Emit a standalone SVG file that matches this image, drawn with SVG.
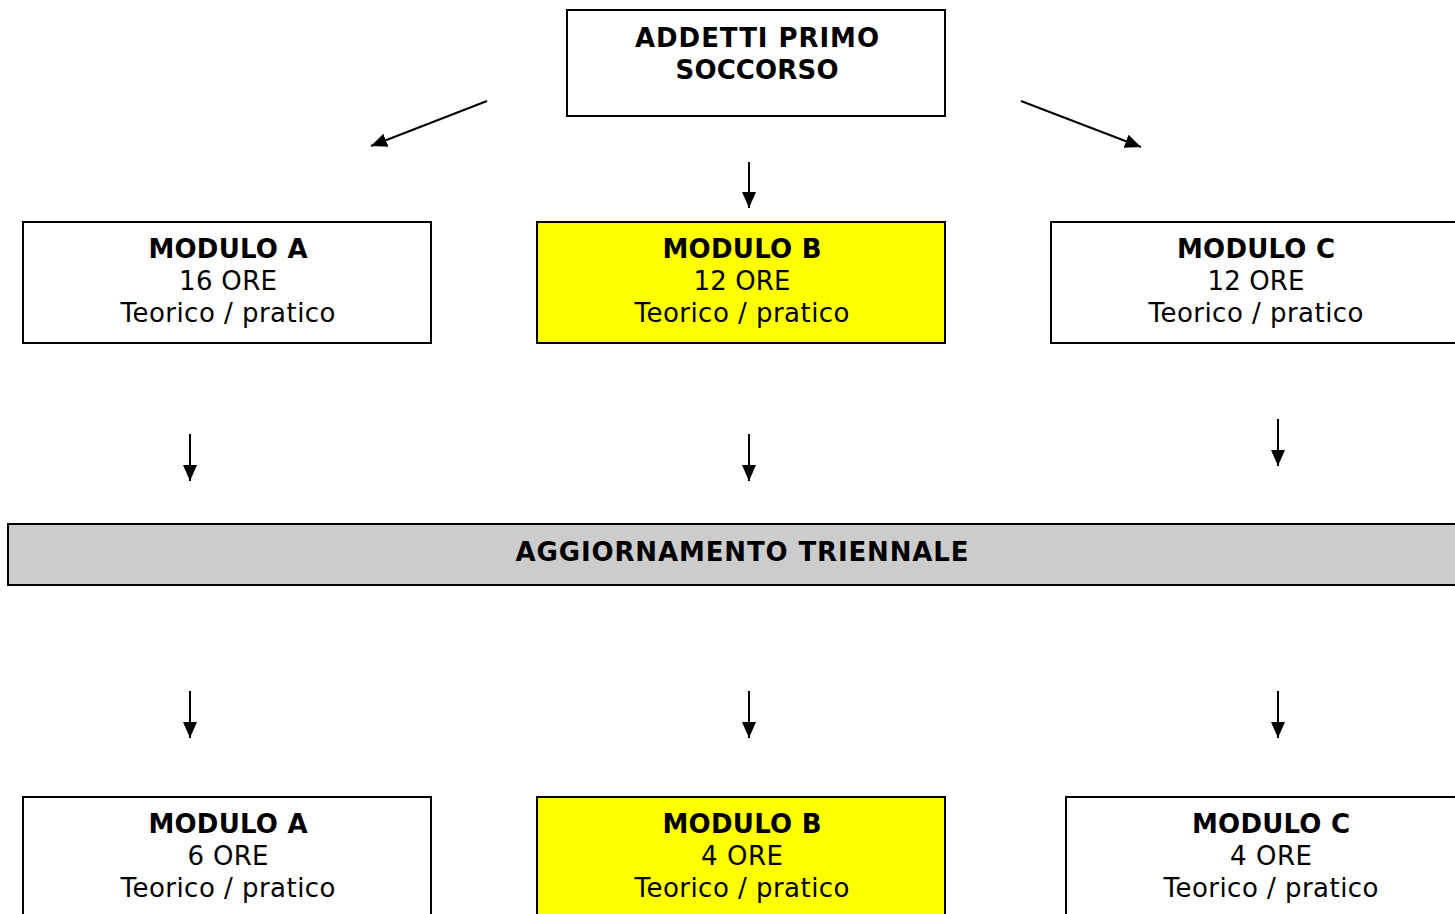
<svg xmlns="http://www.w3.org/2000/svg" width="1455" height="914" viewBox="0 0 1455 914">
<style>
.box{fill:#fff;stroke:#000;stroke-width:2}
.yel{fill:#ffff00;stroke:#000;stroke-width:2}
.gry{fill:#cccccc;stroke:#000;stroke-width:2}
text{font-family:Verdana,"DejaVu Sans",sans-serif;font-size:26px;text-anchor:middle;fill:#000}
.b{font-weight:bold}
.con{stroke:#000;stroke-width:2;fill:none;marker-end:url(#ah)}
</style>
<defs>
<marker id="ah" markerUnits="userSpaceOnUse" markerWidth="17" markerHeight="14" refX="16" refY="7" orient="auto">
<path d="M0,0 L16,7 L0,14 Z" fill="#000"/>
</marker>
</defs>
<rect width="1455" height="914" fill="#fff"/>
<g id="top">
<rect class="box" x="567" y="10" width="378" height="106"/>
<text class="b" x="757" y="47" textLength="244" lengthAdjust="spacing">ADDETTI PRIMO</text>
<text class="b" x="757" y="79" textLength="163" lengthAdjust="spacing">SOCCORSO</text>
</g>
<g id="modA1">
<rect class="box" x="23" y="222" width="408" height="121"/>
<text class="b" x="228" y="258" textLength="159" lengthAdjust="spacing">MODULO A</text>
<text x="228" y="290" textLength="98" lengthAdjust="spacing">16 ORE</text>
<text x="228" y="322" textLength="215" lengthAdjust="spacing">Teorico / pratico</text>
</g>
<g id="modB1">
<rect class="yel" x="537" y="222" width="408" height="121"/>
<text class="b" x="742" y="258" textLength="159" lengthAdjust="spacing">MODULO B</text>
<text x="742" y="290" textLength="97" lengthAdjust="spacing">12 ORE</text>
<text x="742" y="322" textLength="215" lengthAdjust="spacing">Teorico / pratico</text>
</g>
<g id="modC1">
<rect class="box" x="1051" y="222" width="420" height="121"/>
<text class="b" x="1256" y="258" textLength="158" lengthAdjust="spacing">MODULO C</text>
<text x="1256" y="290" textLength="97" lengthAdjust="spacing">12 ORE</text>
<text x="1256" y="322" textLength="215" lengthAdjust="spacing">Teorico / pratico</text>
</g>
<g id="agg">
<rect class="gry" x="8" y="524" width="1460" height="61"/>
<text class="b" x="742" y="561" textLength="453" lengthAdjust="spacing">AGGIORNAMENTO TRIENNALE</text>
</g>
<g id="modA2">
<rect class="box" x="23" y="797" width="408" height="130"/>
<text class="b" x="228" y="833" textLength="159" lengthAdjust="spacing">MODULO A</text>
<text x="228" y="865" textLength="81" lengthAdjust="spacing">6 ORE</text>
<text x="228" y="897" textLength="215" lengthAdjust="spacing">Teorico / pratico</text>
</g>
<g id="modB2">
<rect class="yel" x="537" y="797" width="408" height="130"/>
<text class="b" x="742" y="833" textLength="159" lengthAdjust="spacing">MODULO B</text>
<text x="742" y="865" textLength="82" lengthAdjust="spacing">4 ORE</text>
<text x="742" y="897" textLength="215" lengthAdjust="spacing">Teorico / pratico</text>
</g>
<g id="modC2">
<rect class="box" x="1066" y="797" width="410" height="130"/>
<text class="b" x="1271" y="833" textLength="158" lengthAdjust="spacing">MODULO C</text>
<text x="1271" y="865" textLength="82" lengthAdjust="spacing">4 ORE</text>
<text x="1271" y="897" textLength="215" lengthAdjust="spacing">Teorico / pratico</text>
</g>
<g id="connectors">
<line class="con" x1="487" y1="101" x2="371" y2="146"/>
<line class="con" x1="749" y1="162" x2="749" y2="208"/>
<line class="con" x1="1021" y1="101" x2="1141" y2="147"/>
<line class="con" x1="190" y1="434" x2="190" y2="481"/>
<line class="con" x1="749" y1="434" x2="749" y2="481"/>
<line class="con" x1="1278" y1="419" x2="1278" y2="466"/>
<line class="con" x1="190" y1="691" x2="190" y2="738"/>
<line class="con" x1="749" y1="691" x2="749" y2="738"/>
<line class="con" x1="1278" y1="691" x2="1278" y2="738"/>
</g>
</svg>
